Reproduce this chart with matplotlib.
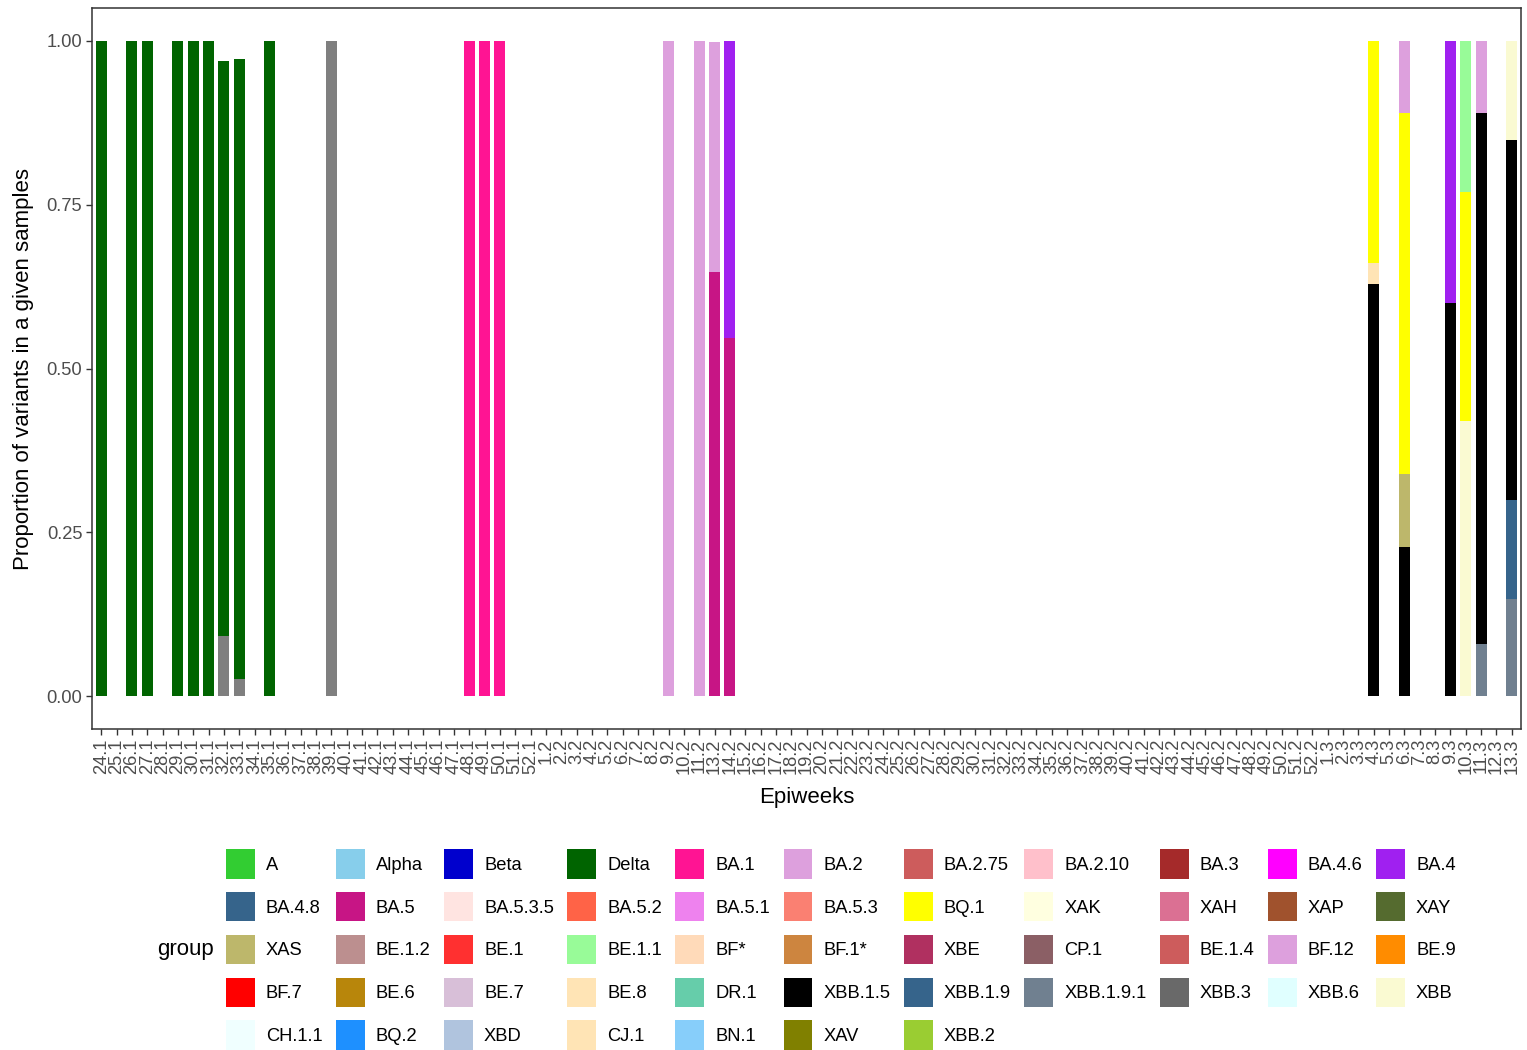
import numpy as np
import pandas as pd
import matplotlib
matplotlib.use("Agg")
import matplotlib.pyplot as plt
import matplotlib.patches as mpatches

plt.rcParams['font.family'] = ['Liberation Sans', 'DejaVu Sans']

# epiweek labels on the x axis (week.year-index), 12.2 has no samples at all
weeks = [f"{w}.1" for w in range(24, 53)] \
    + [f"{w}.2" for w in range(1, 53) if w != 12] \
    + [f"{w}.3" for w in range(1, 14)]

# lineage groups and their fill colours, in legend order
groups = ["A", "Alpha", "Beta", "Delta", "BA.1", "BA.2", "BA.2.75", "BA.2.10", "BA.3", "BA.4.6", "BA.4",
          "BA.4.8", "BA.5", "BA.5.3.5", "BA.5.2", "BA.5.1", "BA.5.3", "BQ.1", "XAK", "XAH", "XAP", "XAY",
          "XAS", "BE.1.2", "BE.1", "BE.1.1", "BF*", "BF.1*", "XBE", "CP.1", "BE.1.4", "BF.12", "BE.9",
          "BF.7", "BE.6", "BE.7", "BE.8", "DR.1", "XBB.1.5", "XBB.1.9", "XBB.1.9.1", "XBB.3", "XBB.6", "XBB",
          "CH.1.1", "BQ.2", "XBD", "CJ.1", "BN.1", "XAV", "XBB.2"]
group_colors = ["#32CD32", "#87CEEB", "#0000CD", "#006400", "#FF1493", "#DDA0DD", "#CD5C5C", "#FFC0CB",
                "#A52A2A", "#FF00FF", "#A020F0",
                "#36648B", "#C71585", "#FFE4E1", "#FF6347", "#EE82EE", "#FA8072", "#FFFF00", "#FFFFE0",
                "#DB7093", "#A0522D", "#556B2F",
                "#BDB76B", "#BC8F8F", "#FF3030", "#98FB98", "#FFDAB9", "#CD853F", "#B03060", "#8B5F65",
                "#CD5C5C", "#DDA0DD", "#FF8C00",
                "#FF0000", "#B8860B", "#D8BFD8", "#FFE4B5", "#66CDAA", "#000000", "#36648B", "#708090",
                "#696969", "#E0FFFF", "#FAFAD2",
                "#F0FFFF", "#1E90FF", "#B0C4DE", "#FFE4B5", "#87CEFA", "#808000", "#9ACD32"]
na_color = "#7F7F7F"  # lineages without an assigned group

# proportions per epiweek, listed bottom to top of each stack
seg_week = ["24.1", "26.1", "27.1", "29.1", "30.1", "31.1",
            "32.1", "32.1", "33.1", "33.1", "35.1", "39.1",
            "48.1", "49.1", "50.1",
            "9.2", "11.2", "13.2", "13.2", "14.2", "14.2",
            "4.3", "4.3", "4.3",
            "6.3", "6.3", "6.3", "6.3",
            "9.3", "9.3",
            "10.3", "10.3", "10.3",
            "11.3", "11.3", "11.3",
            "13.3", "13.3", "13.3", "13.3"]
seg_group = ["Delta", "Delta", "Delta", "Delta", "Delta", "Delta",
             None, "Delta", None, "Delta", "Delta", None,
             "BA.1", "BA.1", "BA.1",
             "BA.2", "BA.2", "BA.5", "BA.2", "BA.5", "BA.4",
             "XBB.1.5", "CJ.1", "BQ.1",
             "XBB.1.5", "XAS", "BQ.1", "BA.2",
             "XBB.1.5", "BA.4",
             "XBB", "BQ.1", "BE.1.1",
             "XBB.1.9.1", "XBB.1.5", "BF.12",
             "XBB.1.9.1", "XBB.1.9", "XBB.1.5", "XBB"]
seg_value = [1.0, 1.0, 1.0, 1.0, 1.0, 1.0,
             0.092, 0.877, 0.027, 0.945, 1.0, 1.0,
             1.0, 1.0, 1.0,
             1.0, 1.0, 0.647, 0.351, 0.547, 0.453,
             0.629, 0.032, 0.339,
             0.228, 0.111, 0.551, 0.110,
             0.600, 0.400,
             0.420, 0.350, 0.230,
             0.080, 0.810, 0.110,
             0.149, 0.151, 0.549, 0.151]

df = pd.DataFrame({"week": seg_week, "group": seg_group, "value": seg_value})
df["x"] = df["week"].map({w: i for i, w in enumerate(weeks)})
df["bottom"] = df.groupby("week")["value"].cumsum() - df["value"]
color_of = dict(zip(groups, group_colors))
df["color"] = [color_of.get(g, na_color) if g else na_color for g in df["group"]]

fig = plt.figure(figsize=(15.27, 10.5), dpi=100)
ax = fig.add_axes([92 / 1527, 1 - 729 / 1050, 1429 / 1527, 721 / 1050])

ax.bar(df["x"], df["value"], bottom=df["bottom"], width=0.7, color=df["color"], linewidth=0)

ax.set_xlim(-0.6, len(weeks) - 0.4)
ax.set_ylim(-0.05, 1.05)
ax.set_xticks(range(len(weeks)))
ax.set_xticklabels(weeks, rotation=90, fontsize=13.2, color="#4D4D4D")
ax.set_yticks([0, 0.25, 0.5, 0.75, 1.0])
ax.set_yticklabels(["0.00", "0.25", "0.50", "0.75", "1.00"], fontsize=13.2, color="#4D4D4D")
ax.tick_params(length=4, width=1, color="#333333", pad=3)
for sp in ax.spines.values():
    sp.set_color("#333333")
    sp.set_linewidth(1.1)
ax.set_xlabel("Epiweeks", fontsize=16, labelpad=9)
ax.set_ylabel("Proportion of variants in a given samples", fontsize=16, labelpad=9)

# ggplot-like legend filled row by row: reorder handles for column-major layout
ncol = 11
handles = [mpatches.Patch(facecolor=c, edgecolor="none", label=g) for g, c in zip(groups, group_colors)]
order = []
for j in range(ncol):
    order += list(range(j, len(handles), ncol))
handles = [handles[i] for i in order]
fig.legend(handles=handles, ncol=ncol, loc="upper left",
           bbox_to_anchor=(226 / 1527, 1 - 849.5 / 1050), frameon=False,
           fontsize=13.2, borderpad=0, borderaxespad=0,
           handlelength=1.58, handleheight=2.07, handletextpad=0.6,
           labelspacing=0.74, columnspacing=0.73)
fig.text(157 / 1527, 1 - 949 / 1050, "group", fontsize=16, va="center", ha="left")

fig.savefig("out.png", dpi=100)
